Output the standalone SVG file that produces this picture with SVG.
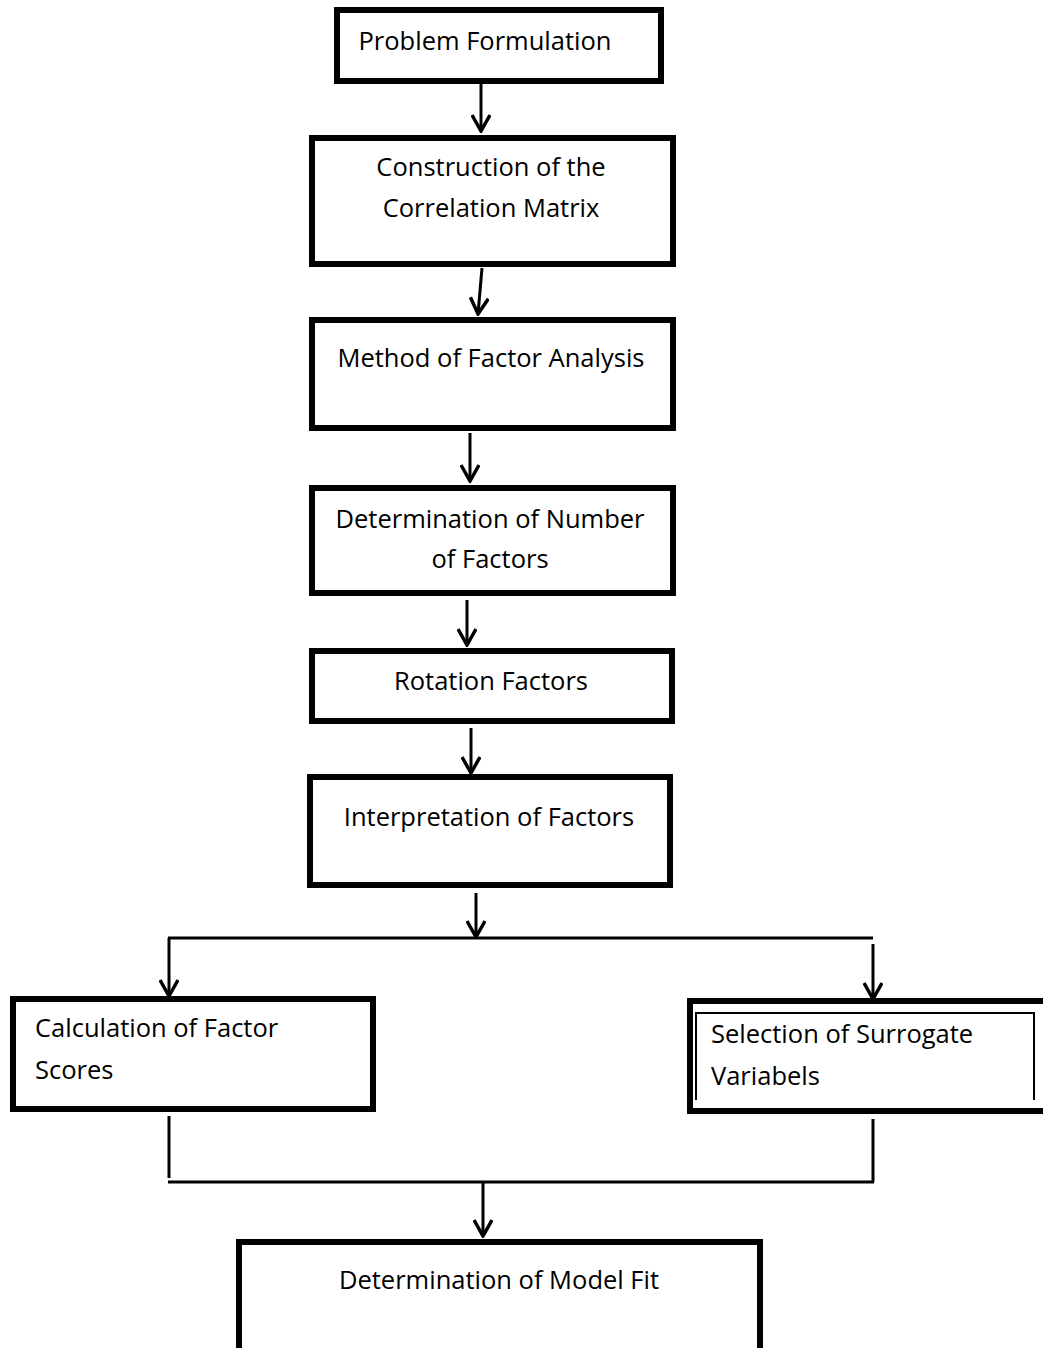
<svg xmlns="http://www.w3.org/2000/svg" width="1043" height="1348" viewBox="0 0 1043 1348">
<defs>
<style>
.box{fill:#fff;stroke:#000;stroke-width:6}
.thin{fill:none;stroke:#000;stroke-width:2}
.ln{fill:none;stroke:#000;stroke-width:3}
text{font-family:"Open Sans","Liberation Sans",sans-serif;font-size:25.5px;fill:#000}
.c{text-anchor:middle}
</style>
<marker id="arr" viewBox="0 0 20 20" refX="18" refY="10" markerWidth="20" markerHeight="20" markerUnits="userSpaceOnUse" orient="auto">
<path d="M2,1 L18,10 L2,19" fill="none" stroke="#000" stroke-width="3.5"/>
</marker>
</defs>
<rect width="1043" height="1348" fill="#fff"/>
<g id="connectors">
<line class="ln" x1="481" y1="83" x2="481" y2="131" marker-end="url(#arr)"/>
<line class="ln" x1="482" y1="268" x2="478" y2="314" marker-end="url(#arr)"/>
<line class="ln" x1="470" y1="433" x2="470" y2="481" marker-end="url(#arr)"/>
<line class="ln" x1="467" y1="600" x2="467" y2="645" marker-end="url(#arr)"/>
<line class="ln" x1="471" y1="728" x2="471" y2="773" marker-end="url(#arr)"/>
<line class="ln" x1="476" y1="893" x2="476" y2="937" marker-end="url(#arr)"/>
<line class="ln" x1="168" y1="938" x2="873" y2="938"/>
<line class="ln" x1="169" y1="938" x2="169" y2="996" marker-end="url(#arr)"/>
<line class="ln" x1="873" y1="944" x2="873" y2="999" marker-end="url(#arr)"/>
<line class="ln" x1="169" y1="1116" x2="169" y2="1178"/>
<line class="ln" x1="873" y1="1119" x2="873" y2="1182"/>
<line class="ln" x1="168" y1="1182" x2="874" y2="1182"/>
<line class="ln" x1="483" y1="1182" x2="483" y2="1236" marker-end="url(#arr)"/>
</g>
<g id="n1"><rect class="box" x="337" y="10" width="324" height="71"/><text class="c" x="485" y="50">Problem Formulation</text></g>
<g id="n2"><rect class="box" x="312" y="138" width="361" height="126"/><text class="c" x="491" y="176">Construction of the</text><text class="c" x="491" y="217">Correlation Matrix</text></g>
<g id="n3"><rect class="box" x="312" y="320" width="361" height="108"/><text class="c" x="491" y="367">Method of Factor Analysis</text></g>
<g id="n4"><rect class="box" x="312" y="488" width="361" height="105"/><text class="c" x="490" y="528">Determination of Number</text><text class="c" x="490" y="568">of Factors</text></g>
<g id="n5"><rect class="box" x="312" y="651" width="360" height="70"/><text class="c" x="491" y="690">Rotation Factors</text></g>
<g id="n6"><rect class="box" x="310" y="777" width="360" height="108"/><text class="c" x="489" y="826">Interpretation of Factors</text></g>
<g id="n7"><rect class="box" x="13" y="999" width="360" height="110"/><text x="35" y="1037">Calculation of Factor</text><text x="35" y="1079">Scores</text></g>
<g id="n8"><path d="M1050,1001 L690,1001 L690,1111 L1050,1111" fill="#fff" stroke="#000" stroke-width="6"/><path class="thin" d="M696,1100 L696,1013 L1034,1013 L1034,1100"/><text x="711" y="1043">Selection of Surrogate</text><text x="711" y="1085">Variabels</text></g>
<g id="n9"><path d="M239,1352 L239,1242 L760,1242 L760,1352" fill="#fff" stroke="#000" stroke-width="6"/><text class="c" x="499" y="1289">Determination of Model Fit</text></g>
</svg>
